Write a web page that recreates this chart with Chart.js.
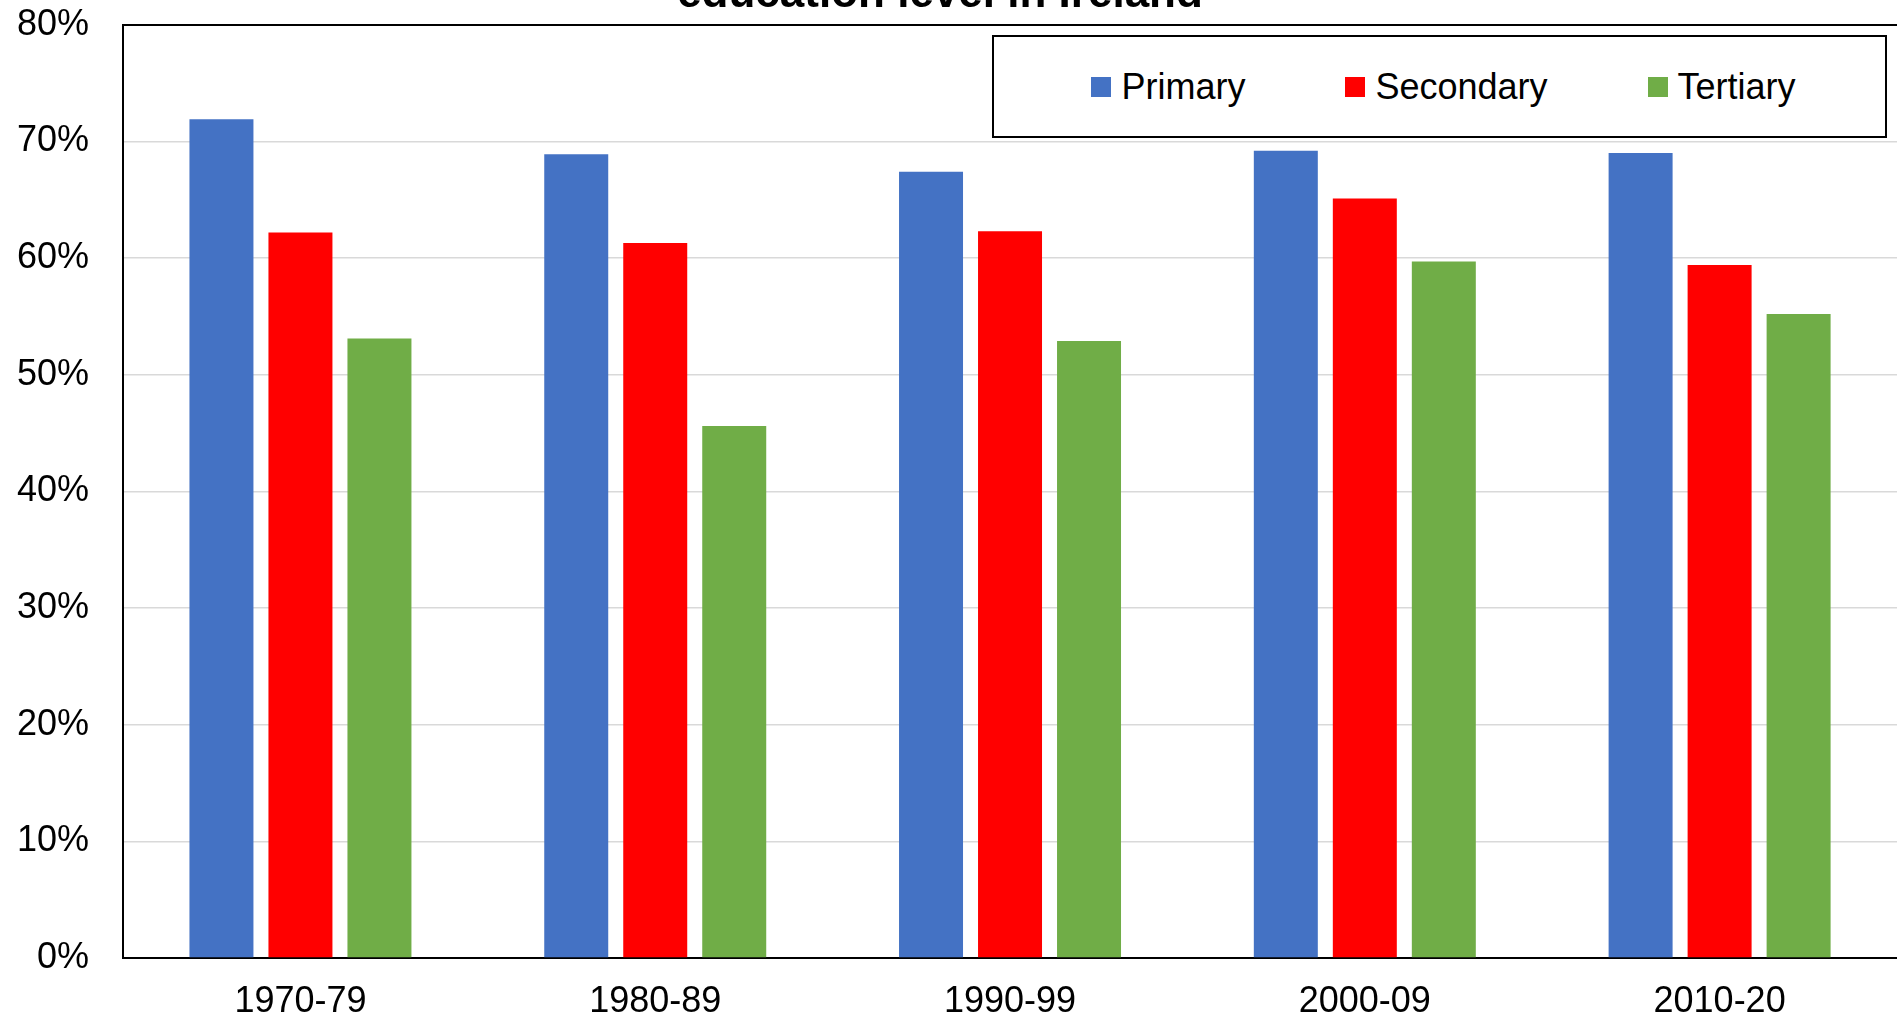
<!DOCTYPE html>
<html>
<head>
<meta charset="utf-8">
<script src="https://cdn.jsdelivr.net/npm/chart.js@4.4.1/dist/chart.umd.min.js"></script>
<style>
  body { margin: 0; background: #fff; }
  #wrap { position: relative; width: 1897px; height: 1020px; }
  #legendBox {
    position: absolute; left: 992px; top: 35px; width: 895px; height: 103px;
    box-sizing: border-box; border: 2px solid #000; background: #fff;
    display: flex; align-items: center; justify-content: center; gap: 100px;
    padding-left: 8px;
    font-family: "Liberation Sans", Arial, sans-serif; font-size: 36px; color: #000;
  }
  .item { display: flex; align-items: center; }
  .swatch { width: 20px; height: 20px; margin-right: 10px; }
</style>
</head>
<body>
<div id="wrap">
  <canvas id="chartCanvas"></canvas>
  <div id="legendBox"></div>
</div>
<script>
// --- data ---
const decades = ["1970-79", "1980-89", "1990-99", "2000-09", "2010-20"];
const seriesNames = ["Primary", "Secondary", "Tertiary"];
const primary = [71.9, 68.9, 67.4, 69.2, 69.0];
const secondary = [62.2, 61.3, 62.3, 65.1, 59.4];
const tertiary = [53.1, 45.6, 52.9, 59.7, 55.2];
const colors = ["#4472C4", "#FF0000", "#70AD47"];

const seriesValues = [primary, secondary, tertiary];
const font = "'Liberation Sans', Arial, sans-serif";

const datasets = seriesNames.map((name, i) => ({
  label: name,
  data: seriesValues[i],
  backgroundColor: colors[i],
  borderWidth: 0,
  categoryPercentage: 0.668,
  barPercentage: 0.81
}));

// html legend with the boxed look
const legendBox = document.getElementById("legendBox");
seriesNames.forEach((name, i) => {
  const item = document.createElement("div");
  item.className = "item";
  const sw = document.createElement("span");
  sw.className = "swatch";
  sw.style.background = colors[i];
  const txt = document.createElement("span");
  txt.textContent = name;
  item.appendChild(sw);
  item.appendChild(txt);
  legendBox.appendChild(item);
});

const canvas = document.getElementById("chartCanvas");
new Chart(canvas, {
  type: "bar",
  data: { labels: decades, datasets },
  options: {
    responsive: true,
    maintainAspectRatio: false,
    animation: false,
    layout: { padding: { left: -17, right: 0, top: 0, bottom: -26 } },
    plugins: {
      legend: { display: false },
      tooltip: { enabled: false },
      title: {
        display: true,
        text: "education level in Ireland",
        color: "#000",
        font: { family: font, size: 44, weight: "bold", lineHeight: 1.2 },
        padding: { top: -32, bottom: 4 }
      }
    },
    scales: {
      x: {
        grid: { display: false, drawTicks: false },
        border: { color: "#000", width: 2 },
        ticks: {
          color: "#000",
          padding: 26,
          font: { family: font, size: 36, lineHeight: 1.0 },
          maxRotation: 0
        }
      },
      y: {
        min: 0,
        max: 80,
        // the top label may overflow above the plot, like the original
        afterFit: scale => { scale.paddingTop = 0; },
        grid: {
          drawTicks: false,
          color: ctx => ctx.tick && ctx.tick.value === 80 ? "#000" : "#d9d9d9",
          lineWidth: ctx => ctx.tick && ctx.tick.value === 80 ? 2 : 1.5
        },
        border: { color: "#000", width: 2 },
        ticks: {
          stepSize: 10,
          color: "#000",
          padding: 34,
          font: { family: font, size: 36 },
          callback: v => v + "%"
        }
      }
    }
  }
});
</script>
</body>
</html>
